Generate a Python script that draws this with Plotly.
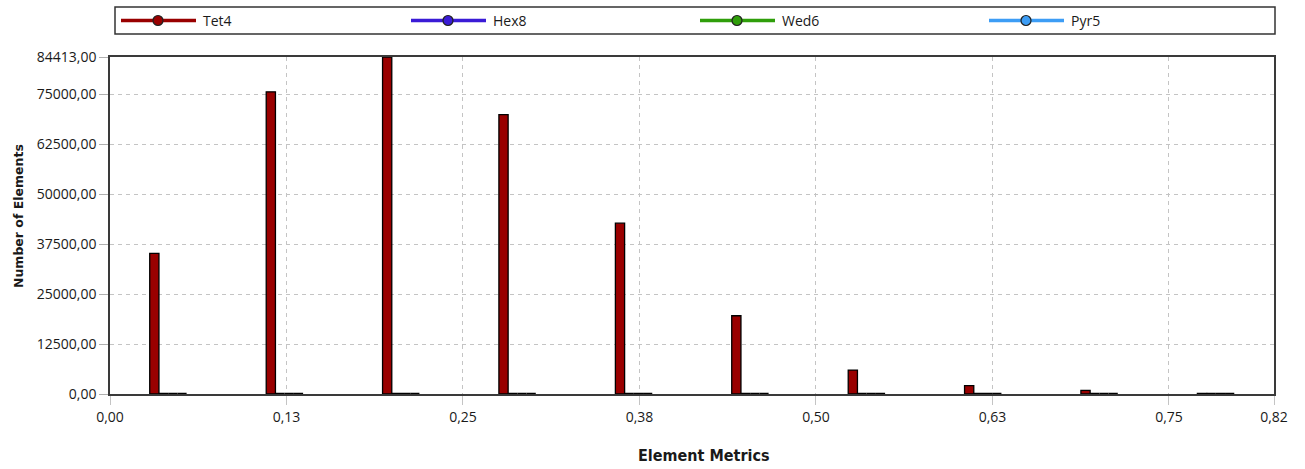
import plotly.graph_objects as go

# Histogram of element quality metric, per element shape
bin_centers = [0.0412, 0.1237, 0.2061, 0.2885, 0.3710, 0.4534, 0.5359, 0.6183, 0.7007, 0.7832]
tet4_counts = [35200, 75700, 84413, 70000, 42800, 19600, 6000, 2100, 900, 150]
hex8_counts = [0, 0, 0, 0, 0, 0, 0, 0, 0, 0]
wed6_counts = [0, 0, 0, 0, 0, 0, 0, 0, 0, 0]
pyr5_counts = [0, 0, 0, 0, 0, 0, 0, 0, 0, 0]

series_names = ["Tet4", "Hex8", "Wed6", "Pyr5"]
series_colors = ["#990000", "#3a1bd6", "#2f9e0a", "#3d9df5"]
outline_widths = [1.3, 2.4, 2.4, 2.4]

x_max = 0.8244
x_tick_values = [0, 0.125, 0.25, 0.375, 0.5, 0.625, 0.75, 0.8244]
x_tick_labels = ["0,00", "0,13", "0,25", "0,38", "0,50", "0,63", "0,75", "0,82"]
y_tick_values = [0, 12500, 25000, 37500, 50000, 62500, 75000, 84413]
y_tick_labels = [f"{v:.2f}".replace(".", ",") for v in y_tick_values]

tick_font = dict(family="Open Sans", size=14, color="#1a1a1a")

fig = go.Figure()
for name, color, lw, vals in zip(series_names, series_colors, outline_widths,
                                 [tet4_counts, hex8_counts, wed6_counts, pyr5_counts]):
    fig.add_trace(go.Bar(
        x=bin_centers, y=vals, name=name,
        marker=dict(color=color, line=dict(color="#000000", width=lw)),
        showlegend=False,
    ))

grid_dash = "4px,4px"
fig.update_layout(
    width=1305, height=469,
    margin=dict(l=110, r=31, t=57, b=75),
    paper_bgcolor="white", plot_bgcolor="white",
    barmode="group", bargap=0.683, bargroupgap=0,
    xaxis=dict(
        range=[0, x_max], tickmode="array",
        tickvals=x_tick_values, ticktext=x_tick_labels,
        showgrid=True, gridcolor="#c4c4c4", griddash=grid_dash, gridwidth=1,
        ticks="outside", ticklen=9, tickcolor="#c4c4c4", tickwidth=1,
        showline=True, linecolor="#3a3a3a", linewidth=1.5, mirror=True,
        tickfont=tick_font, zeroline=False,
    ),
    yaxis=dict(
        range=[0, 84413], tickmode="array",
        tickvals=y_tick_values, ticktext=y_tick_labels,
        showgrid=True, gridcolor="#c4c4c4", griddash=grid_dash, gridwidth=1,
        ticks="outside", ticklen=9, tickcolor="#b0b0b0", tickwidth=1,
        showline=True, linecolor="#3a3a3a", linewidth=1.5, mirror=True,
        tickfont=tick_font, zeroline=False,
    ),
)

# Plot-area size in pixels, used to place decorations in paper coordinates
PL, PT, PW, PH = 110, 57, 1164, 337

def paper_x(px):
    return (px - PL) / PW

def paper_y(py):
    return 1 + (PT - py) / PH

# Axis titles
fig.add_annotation(text="<b>Element Metrics</b>", xref="paper", yref="paper",
                   x=paper_x(704), y=paper_y(455), xanchor="center", yanchor="middle",
                   showarrow=False,
                   font=dict(family="DejaVu Sans Condensed, Roboto, sans-serif",
                             size=16, color="#1a1a1a"))
fig.add_annotation(text="<b>Number of Elements</b>", xref="paper", yref="paper",
                   x=paper_x(18), y=paper_y(216), xanchor="center", yanchor="middle",
                   showarrow=False, textangle=-90,
                   font=dict(family="DejaVu Sans", size=12.5, color="#1a1a1a"))

# Legend box with line+marker symbols
fig.add_shape(type="rect", xref="paper", yref="paper",
              x0=paper_x(115), x1=paper_x(1275), y0=paper_y(34), y1=paper_y(7),
              line=dict(color="#333333", width=1.5), fillcolor="white", layer="above")

legend_starts = [121, 411, 700, 989]
legend_y = 20.5
for name, color, sx in zip(series_names, series_colors, legend_starts):
    yy = paper_y(legend_y)
    fig.add_shape(type="line", xref="paper", yref="paper",
                  x0=paper_x(sx), x1=paper_x(sx + 75), y0=yy, y1=yy,
                  line=dict(color=color, width=3.5), layer="above")
    cx, r = sx + 37, 5
    fig.add_shape(type="circle", xref="paper", yref="paper",
                  x0=paper_x(cx - r), x1=paper_x(cx + r),
                  y0=paper_y(legend_y + r), y1=paper_y(legend_y - r),
                  line=dict(color="#202020", width=1.2), fillcolor=color, layer="above")
    fig.add_annotation(text=name, xref="paper", yref="paper",
                       x=paper_x(sx + 80), y=yy, xanchor="left", yanchor="middle",
                       showarrow=False,
                       font=dict(family="Open Sans", size=14, color="#1a1a1a"))

fig.write_html("out.html")
